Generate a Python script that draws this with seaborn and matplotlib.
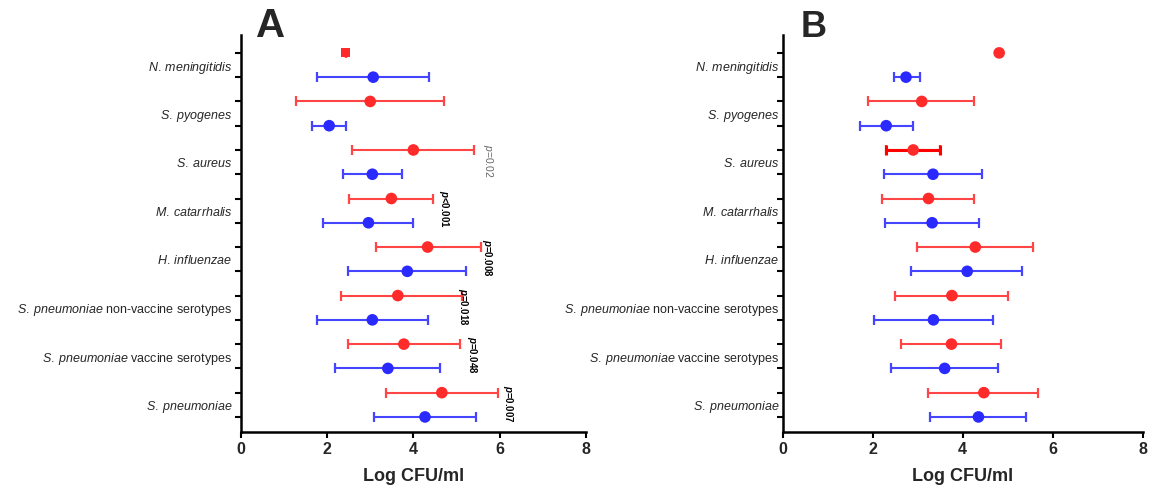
import numpy as np
import pandas as pd
import seaborn as sns
from matplotlib import pyplot as plt

# categories (top to bottom), label = italic species + plain suffix
species = [
    "N. meningitidis",
    "S. pyogenes",
    "S. aureus",
    "M. catarrhalis",
    "H. influenzae",
    "S. pneumoniae",
    "S. pneumoniae",
    "S. pneumoniae",
]
suffix = ["", "", "", "", "", " non-vaccine serotypes", " vaccine serotypes", ""]

# panel A, log CFU/ml: mean and interval ends
a_red_mid = [2.43, 3.00, 4.00, 3.49, 4.33, 3.64, 3.78, 4.66]
a_red_lo = [2.43, 1.28, 2.59, 2.50, 3.13, 2.32, 2.49, 3.36]
a_red_hi = [2.43, 4.70, 5.41, 4.46, 5.56, 5.13, 5.07, 5.96]
a_blue_mid = [3.07, 2.05, 3.05, 2.96, 3.86, 3.05, 3.41, 4.27]
a_blue_lo = [1.77, 1.66, 2.36, 1.91, 2.48, 1.77, 2.18, 3.09]
a_blue_hi = [4.36, 2.45, 3.73, 4.00, 5.21, 4.34, 4.61, 5.44]

# panel B
b_red_mid = [4.81, 3.09, 2.90, 3.24, 4.28, 3.76, 3.75, 4.47]
b_red_lo = [4.81, 1.90, 2.29, 2.21, 2.98, 2.50, 2.64, 3.24]
b_red_hi = [4.81, 4.26, 3.50, 4.26, 5.57, 5.01, 4.85, 5.67]
b_blue_mid = [2.74, 2.30, 3.34, 3.32, 4.10, 3.35, 3.60, 4.35]
b_blue_lo = [2.47, 1.71, 2.26, 2.27, 2.86, 2.02, 2.41, 3.27]
b_blue_hi = [3.06, 2.89, 4.42, 4.37, 5.31, 4.67, 4.79, 5.41]

# p-values in panel A
p_text = ["p=0.02", "p<0.001", "p=0.008", "p=0.018", "p=0.048", "p=0.007"]
p_cat = [2, 3, 4, 5, 6, 7]
p_x = [5.73, 4.71, 5.71, 5.15, 5.36, 6.19]
p_sig = [False, True, True, True, True, True]

xticks = [0, 2, 4, 6, 8]

RED_LINE = "#ff4545"
RED_DOT = "#ff2a2a"
BLUE_LINE = "#4545ff"
BLUE_DOT = "#2a2aff"


def make_df(red_mid, red_lo, red_hi, blue_mid, blue_lo, blue_hi):
    rows = []
    for i in range(len(species)):
        rows.append(dict(cat=i, group="red", row=2 * i, mid=red_mid[i], lo=red_lo[i], hi=red_hi[i]))
        rows.append(dict(cat=i, group="blue", row=2 * i + 1, mid=blue_mid[i], lo=blue_lo[i], hi=blue_hi[i]))
    return pd.DataFrame(rows)


def label_for(i):
    sp = species[i].replace(" ", r"\:")
    return r"$\mathit{" + sp + "}$" + suffix[i]


def draw_panel(ax, df, label_pad, square_single=False, emph=None):
    df = df.copy()
    df["shape"] = "circle"
    if square_single:
        df.loc[(df.lo == df.hi) & (df.group == "red"), "shape"] = "square"

    for group, color in [("red", RED_LINE), ("blue", BLUE_LINE)]:
        sub = df[df.group == group]
        ax.errorbar(
            sub["mid"], sub["row"],
            xerr=[sub["mid"] - sub["lo"], sub["hi"] - sub["mid"]],
            fmt="none", ecolor=color, elinewidth=1.5, capsize=3.4, capthick=1.6, zorder=2,
        )
    if emph is not None:
        sub = df[(df.cat == emph) & (df.group == "red")]
        ax.errorbar(
            sub["mid"], sub["row"],
            xerr=[sub["mid"] - sub["lo"], sub["hi"] - sub["mid"]],
            fmt="none", ecolor="#ff0000", elinewidth=2.2, capsize=3.4, capthick=2.2, zorder=2,
        )

    sns.scatterplot(
        data=df, x="mid", y="row", hue="group", style="shape", size="shape",
        palette={"red": RED_DOT, "blue": BLUE_DOT},
        markers={"circle": "o", "square": "s"},
        sizes={"circle": 70, "square": 42},
        linewidth=0, legend=False, ax=ax, zorder=3,
    )

    ax.set_xlim(0, 8)
    ax.set_ylim(15.62, -0.74)
    ax.set_xticks(xticks)
    ax.set_xticklabels([str(t) for t in xticks], fontsize=11.5, fontweight="bold")
    ax.set_yticks(np.arange(16))
    ax.set_yticklabels([])
    ax.set_yticks(np.arange(len(species)) * 2 + 0.5, minor=True)
    ax.set_yticklabels([label_for(i) for i in range(len(species))], minor=True, fontsize=9)
    ax.tick_params(axis="y", which="minor", length=0, pad=label_pad)
    ax.tick_params(axis="both", which="major", length=4, width=1.5, color="black")
    ax.tick_params(axis="x", pad=3)
    ax.set_xlabel("Log CFU/ml", fontsize=13, fontweight="bold", labelpad=8)
    ax.set_ylabel("")
    for side in ["left", "bottom"]:
        ax.spines[side].set_linewidth(1.8)
        ax.spines[side].set_color("black")
    sns.despine(ax=ax)


sns.set_theme(style="ticks")
plt.rcParams["font.family"] = ["Liberation Sans", "DejaVu Sans"]
plt.rcParams["mathtext.fontset"] = "custom"
plt.rcParams["mathtext.it"] = "Liberation Sans:italic"
plt.rcParams["mathtext.rm"] = "Liberation Sans"
plt.rcParams["mathtext.bf"] = "Liberation Sans:italic:bold"

fig = plt.figure(figsize=(11.49, 4.92), dpi=100)
ax_a = fig.add_axes([0.2095, 0.122, 0.3005, 0.807])
ax_b = fig.add_axes([0.6812, 0.122, 0.3133, 0.807])

df_a = make_df(a_red_mid, a_red_lo, a_red_hi, a_blue_mid, a_blue_lo, a_blue_hi)
df_b = make_df(b_red_mid, b_red_lo, b_red_hi, b_blue_mid, b_blue_lo, b_blue_hi)

draw_panel(ax_a, df_a, label_pad=6, square_single=True)
draw_panel(ax_b, df_b, label_pad=2.5, emph=2)

for txt, cat, x, sig in zip(p_text, p_cat, p_x, p_sig):
    rest = txt[1:]
    if sig:
        s = r"$\mathbf{p}$" + rest
        ax_a.text(x, 2 * cat + 0.45, s, rotation=-90, ha="center", va="center",
                  fontsize=7, fontweight="bold", color="black")
    else:
        s = r"$\mathit{p}$" + rest
        ax_a.text(x, 2 * cat + 0.45, s, rotation=-90, ha="center", va="center",
                  fontsize=7.5, color="#666666")

fig.text(0.223, 0.925, "A", fontsize=29, fontweight="bold", ha="left", va="baseline")
fig.text(0.697, 0.925, "B", fontsize=26, fontweight="bold", ha="left", va="baseline")

fig.savefig("out.png", dpi=100)
